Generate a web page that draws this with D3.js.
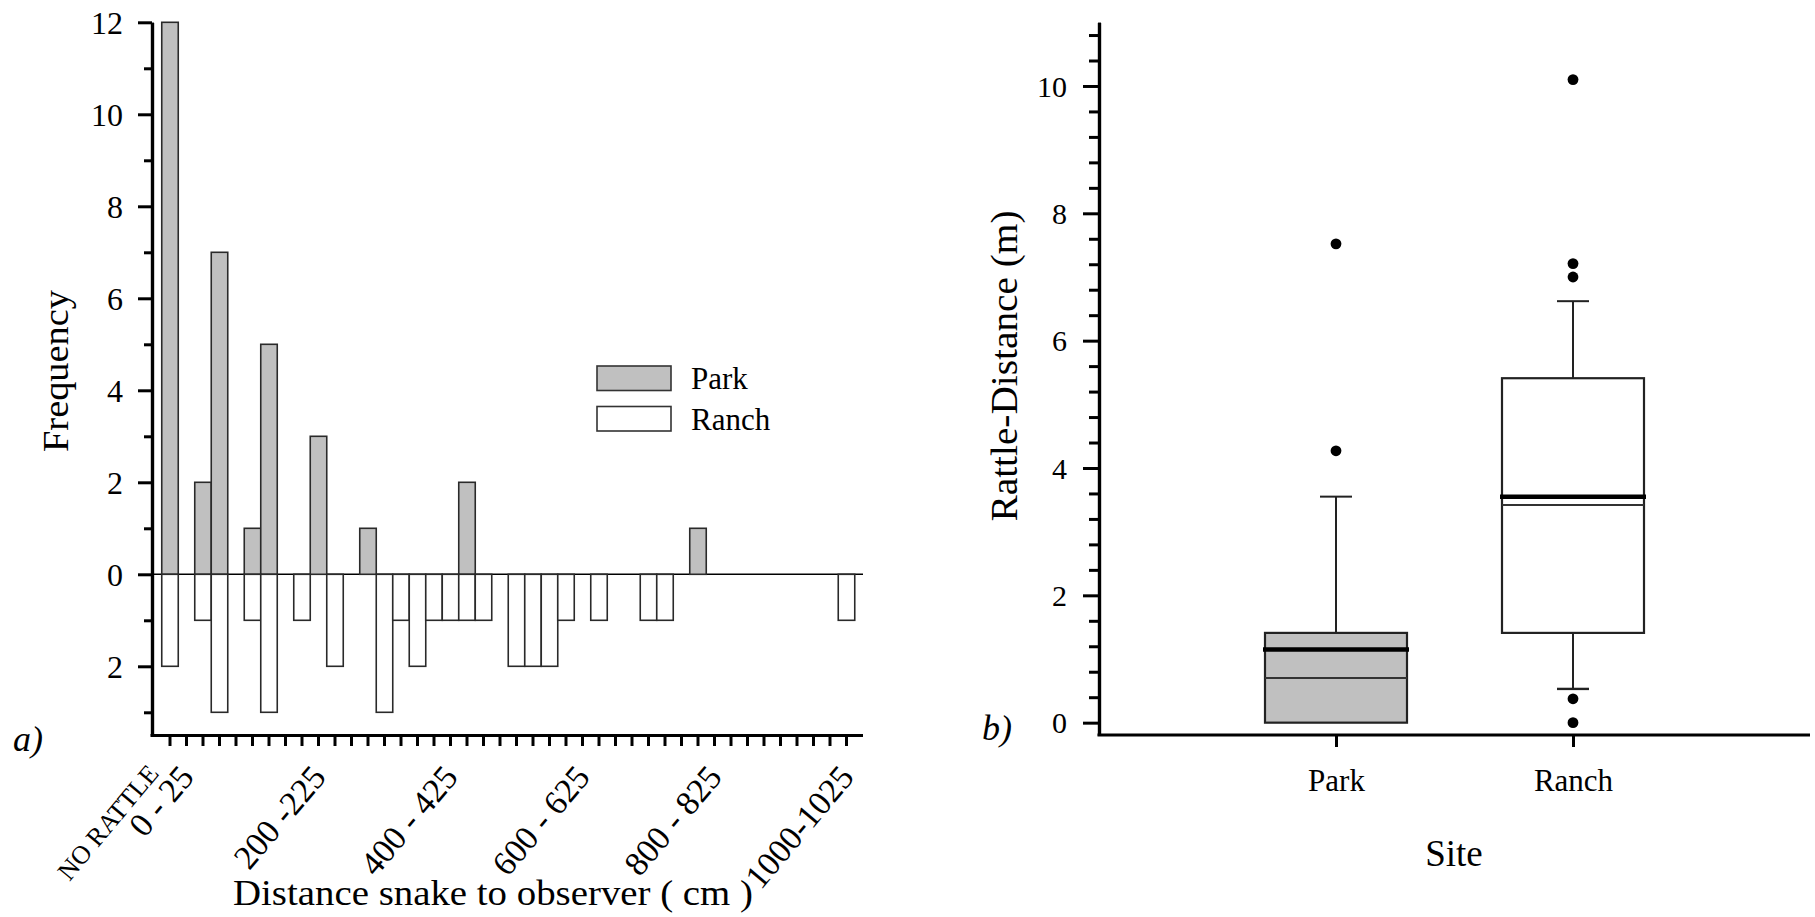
<!DOCTYPE html>
<html lang="en">
<head>
<meta charset="utf-8">
<title>Rattle distance</title>
<script src="https://cdn.jsdelivr.net/npm/d3@7"></script>
<style>
  html,body{margin:0;padding:0;background:#fff;}
  svg text{font-family:"Liberation Serif","Times New Roman",serif;fill:#000;}
</style>
</head>
<body>
<script type="text/javascript">

// ---- data, panel a) histogram ----
var categories = ["NO RATTLE","0-25","25-50","50-75","75-100","100-125","125-150","150-175","175-200","200-225",
  "225-250","250-275","275-300","300-325","325-350","350-375","375-400","400-425","425-450","450-475",
  "475-500","500-525","525-550","550-575","575-600","600-625","625-650","650-675","675-700","700-725",
  "725-750","750-775","775-800","800-825","825-850","850-875","875-900","900-925","925-950","950-975",
  "975-1000","1000-1025"];
var parkCounts  = [12,0,2,7,0,1,5,0,0,3, 0,0,1,0,0,0,0,0,2,0, 0,0,0,0,0,0,0,0,0,0, 0,0,1,0,0,0,0,0,0,0, 0,0];
var ranchCounts = [2,0,1,3,0,1,3,0,1,0, 2,0,0,3,1,2,1,1,1,1, 0,2,2,2,1,0,1,0,0,1, 1,0,0,0,0,0,0,0,0,0, 0,1];
var labelCats  = ["NO RATTLE","0-25","200-225","400-425","600-625","800-825","1000-1025"];
var labelTexts = ["NO RATTLE","0 - 25","200 -225","400 - 425","600 - 625","800 - 825","1000-1025"];
var freqTicks = [12,10,8,6,4,2,0,-2];
var freqMinor = [11,9,7,5,3,1,-1,-3];

// ---- data, panel b) box plot ----
var sites = ["Park","Ranch"];
var boxQ1 = [0, 1.41];
var boxQ3 = [1.41, 5.41];
var boxMedian = [0.70, 3.42];
var boxMean = [1.15, 3.55];
var whiskerLow = [0, 0.53];
var whiskerHigh = [3.55, 6.62];
var outliers = [[4.27, 7.52], [0.0, 0.375, 7.0, 7.21, 10.1]];
var distTicks = [0,2,4,6,8,10];

var svg = d3.select("body").append("svg")
    .attr("width", 1815)
    .attr("height", 917);

// ================= panel a =================
var yL = d3.scaleLinear().domain([-3.5, 12]).range([735.3, 22.3]);
var xL = d3.scaleBand().domain(categories).range([161.75, 854.75]).padding(0);
var leftAxisX = 152, leftAxisEnd = 863;

var ga = svg.append("g");

// zero line
ga.append("line")
    .attr("x1", leftAxisX).attr("x2", leftAxisEnd)
    .attr("y1", yL(0)).attr("y2", yL(0))
    .attr("stroke", "#000").attr("stroke-width", 1.5);

// park bars (up)
ga.selectAll("rect.park")
    .data(categories.map(function(c, i){ return {c: c, v: parkCounts[i]}; }).filter(function(d){ return d.v > 0; }))
  .enter().append("rect")
    .attr("class", "park")
    .attr("x", function(d){ return xL(d.c); })
    .attr("width", xL.bandwidth())
    .attr("y", function(d){ return yL(d.v); })
    .attr("height", function(d){ return yL(0) - yL(d.v); })
    .attr("fill", "#c0c0c0")
    .attr("stroke", "#2a2a2a")
    .attr("stroke-width", 1.6);

// ranch bars (down)
ga.selectAll("rect.ranch")
    .data(categories.map(function(c, i){ return {c: c, v: ranchCounts[i]}; }).filter(function(d){ return d.v > 0; }))
  .enter().append("rect")
    .attr("class", "ranch")
    .attr("x", function(d){ return xL(d.c); })
    .attr("width", xL.bandwidth())
    .attr("y", yL(0))
    .attr("height", function(d){ return yL(-d.v) - yL(0); })
    .attr("fill", "#fff")
    .attr("stroke", "#2a2a2a")
    .attr("stroke-width", 1.6);

// y axis: minor then major
var yMinorL = ga.append("g").attr("transform", "translate(" + leftAxisX + ",0)")
    .call(d3.axisLeft(yL).tickValues(freqMinor).tickSize(8).tickSizeOuter(0).tickFormat(""));
var yMajorL = ga.append("g").attr("transform", "translate(" + leftAxisX + ",0)")
    .call(d3.axisLeft(yL).tickValues(freqTicks).tickSize(14).tickSizeOuter(0)
      .tickFormat(function(d){ return Math.abs(d); }).tickPadding(15));
[yMinorL, yMajorL].forEach(function(g){
  g.select(".domain").attr("stroke", "#000").attr("stroke-width", 3.2);
  g.selectAll(".tick line").attr("stroke", "#000").attr("stroke-width", 3);
});
yMajorL.selectAll(".tick text").attr("font-size", 32).attr("dy", "0.34em");

// x axis
ga.append("line")
    .attr("x1", leftAxisX - 1.5).attr("x2", leftAxisEnd)
    .attr("y1", 735.5).attr("y2", 735.5)
    .attr("stroke", "#000").attr("stroke-width", 3.2);
var xAxL = ga.append("g").attr("transform", "translate(0,737)")
    .call(d3.axisBottom(xL).tickSize(9).tickSizeOuter(0).tickFormat(""));
xAxL.select(".domain").remove();
xAxL.selectAll(".tick line").attr("stroke", "#000").attr("stroke-width", 3);

// rotated category labels
ga.selectAll("text.xlab")
    .data(labelCats)
  .enter().append("text")
    .attr("class", "xlab")
    .attr("text-anchor", "end")
    .attr("font-size", function(d, i){ return i === 0 ? 26 : 34; })
    .attr("transform", function(d, i){
      var x = xL(d) + xL.bandwidth() / 2 + (i === 0 ? -10 : 9);
      var y = i === 0 ? 774 : 778;
      return "translate(" + x + "," + y + ") rotate(-50)";
    })
    .text(function(d, i){ return labelTexts[i]; });

// titles
ga.append("text")
    .attr("transform", "translate(68,371) rotate(-90)")
    .attr("text-anchor", "middle")
    .attr("font-size", 36)
    .attr("textLength", 162).attr("lengthAdjust", "spacingAndGlyphs")
    .text("Frequency");
ga.append("text")
    .attr("x", 493).attr("y", 905)
    .attr("text-anchor", "middle")
    .attr("font-size", 36)
    .attr("textLength", 520).attr("lengthAdjust", "spacingAndGlyphs")
    .text("Distance snake to observer ( cm )");
ga.append("text")
    .attr("x", 13).attr("y", 751)
    .attr("font-size", 36).attr("font-style", "italic")
    .text("a)");

// legend
var legend = ga.append("g");
var legItems = [{name: "Park", fill: "#c0c0c0"}, {name: "Ranch", fill: "#fff"}];
legend.selectAll("rect")
    .data(legItems)
  .enter().append("rect")
    .attr("x", 597).attr("y", function(d, i){ return 366 + i * 40.5; })
    .attr("width", 74).attr("height", 24.5)
    .attr("fill", function(d){ return d.fill; })
    .attr("stroke", "#333").attr("stroke-width", 1.6);
legend.selectAll("text")
    .data(legItems)
  .enter().append("text")
    .attr("x", 691).attr("y", function(d, i){ return 389 + i * 40.5; })
    .attr("font-size", 31)
    .text(function(d){ return d.name; });

// ================= panel b =================
var yR = d3.scaleLinear().domain([-0.2, 11]).range([735.4, 22.3]);
var xR = d3.scalePoint().domain(sites).range([1099, 1810]).padding(1);
var rightAxisX = 1099;
var boxW = 142;

var gb = svg.append("g");

var minorR = d3.range(0.4, 11, 0.4).filter(function(v){ return Math.abs(v / 2 - Math.round(v / 2)) > 0.01; });
var yMinorR = gb.append("g").attr("transform", "translate(" + rightAxisX + ",0)")
    .call(d3.axisLeft(yR).tickValues(minorR).tickSize(10).tickSizeOuter(0).tickFormat(""));
var yMajorR = gb.append("g").attr("transform", "translate(" + rightAxisX + ",0)")
    .call(d3.axisLeft(yR).tickValues(distTicks).tickSize(16).tickSizeOuter(0).tickPadding(16));
[yMinorR, yMajorR].forEach(function(g){
  g.select(".domain").attr("stroke", "#000").attr("stroke-width", 3.2);
  g.selectAll(".tick line").attr("stroke", "#000").attr("stroke-width", 3);
});
yMajorR.selectAll(".tick text").attr("font-size", 30).attr("dy", "0.34em");

gb.append("line")
    .attr("x1", rightAxisX - 1.5).attr("x2", 1810)
    .attr("y1", 735).attr("y2", 735)
    .attr("stroke", "#000").attr("stroke-width", 3.2);
var xAxR = gb.append("g").attr("transform", "translate(0,736)")
    .call(d3.axisBottom(xR).tickSize(11).tickSizeOuter(0).tickPadding(22));
xAxR.select(".domain").remove();
xAxR.selectAll(".tick line").attr("stroke", "#000").attr("stroke-width", 3);
xAxR.selectAll(".tick text").attr("font-size", 31).attr("dy", "0.71em");

// boxes
var boxes = gb.selectAll("g.box")
    .data(sites)
  .enter().append("g").attr("class", "box");

boxes.append("line")   // upper whisker
    .attr("x1", function(d){ return xR(d); }).attr("x2", function(d){ return xR(d); })
    .attr("y1", function(d, i){ return yR(boxQ3[i]); })
    .attr("y2", function(d, i){ return yR(whiskerHigh[i]); })
    .attr("stroke", "#222").attr("stroke-width", 2);
boxes.append("line")
    .attr("x1", function(d){ return xR(d) - 16; }).attr("x2", function(d){ return xR(d) + 16; })
    .attr("y1", function(d, i){ return yR(whiskerHigh[i]); })
    .attr("y2", function(d, i){ return yR(whiskerHigh[i]); })
    .attr("stroke", "#222").attr("stroke-width", 2);
boxes.filter(function(d, i){ return whiskerLow[i] < boxQ1[i]; })
  .each(function(d){
    var i = sites.indexOf(d), g = d3.select(this);
    g.append("line")
      .attr("x1", xR(d)).attr("x2", xR(d))
      .attr("y1", yR(boxQ1[i])).attr("y2", yR(whiskerLow[i]))
      .attr("stroke", "#222").attr("stroke-width", 2);
    g.append("line")
      .attr("x1", xR(d) - 16).attr("x2", xR(d) + 16)
      .attr("y1", yR(whiskerLow[i])).attr("y2", yR(whiskerLow[i]))
      .attr("stroke", "#222").attr("stroke-width", 2.4);
  });

boxes.append("rect")
    .attr("x", function(d){ return xR(d) - boxW / 2; })
    .attr("width", boxW)
    .attr("y", function(d, i){ return yR(boxQ3[i]); })
    .attr("height", function(d, i){ return yR(boxQ1[i]) - yR(boxQ3[i]); })
    .attr("fill", function(d, i){ return i === 0 ? "#c0c0c0" : "#fff"; })
    .attr("stroke", "#222").attr("stroke-width", 2.2);

boxes.append("line")   // median
    .attr("x1", function(d){ return xR(d) - boxW / 2; }).attr("x2", function(d){ return xR(d) + boxW / 2; })
    .attr("y1", function(d, i){ return yR(boxMedian[i]); })
    .attr("y2", function(d, i){ return yR(boxMedian[i]); })
    .attr("stroke", "#333").attr("stroke-width", 2);
boxes.append("line")   // mean
    .attr("x1", function(d){ return xR(d) - boxW / 2 - 2; }).attr("x2", function(d){ return xR(d) + boxW / 2 + 2; })
    .attr("y1", function(d, i){ return yR(boxMean[i]); })
    .attr("y2", function(d, i){ return yR(boxMean[i]); })
    .attr("stroke", "#000").attr("stroke-width", 4.5);

// outliers
var pts = [];
sites.forEach(function(s, i){ outliers[i].forEach(function(v){ pts.push({s: s, v: v}); }); });
gb.selectAll("circle")
    .data(pts)
  .enter().append("circle")
    .attr("cx", function(d){ return xR(d.s); })
    .attr("cy", function(d){ return yR(d.v); })
    .attr("r", 5.4)
    .attr("fill", "#000");

gb.append("text")
    .attr("transform", "translate(1017,366) rotate(-90)")
    .attr("text-anchor", "middle")
    .attr("font-size", 38)
    .attr("textLength", 311).attr("lengthAdjust", "spacingAndGlyphs")
    .text("Rattle-Distance (m)");
gb.append("text")
    .attr("x", 1454).attr("y", 866)
    .attr("text-anchor", "middle")
    .attr("font-size", 37)
    .text("Site");
gb.append("text")
    .attr("x", 982).attr("y", 740)
    .attr("font-size", 36).attr("font-style", "italic")
    .text("b)");

</script>
</body>
</html>
